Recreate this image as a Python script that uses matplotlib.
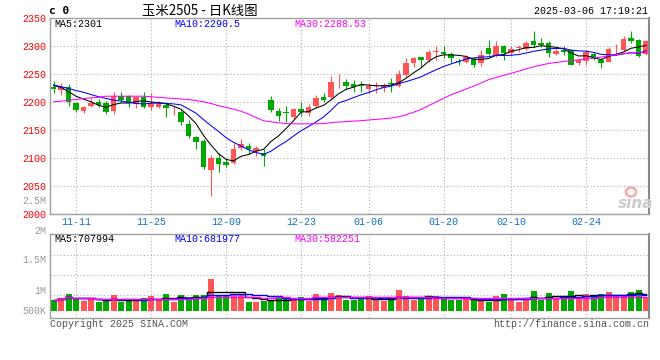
import numpy as np
import pandas as pd
import matplotlib
matplotlib.use('Agg')
import matplotlib.pyplot as plt
from matplotlib.patches import Ellipse

# daily K-line, corn 2505, 2024-11-06 .. 2025-03-06
opens = [2227, 2221, 2227, 2198, 2183, 2193, 2199, 2197, 2184, 2210,
         2210, 2196, 2209, 2191, 2190, 2195, 2185, 2182, 2161, 2137,
         2130, 2077, 2100, 2092, 2090, 2118, 2120, 2112, 2108, 2204,
         2184, 2182, 2172, 2187, 2180, 2192, 2208, 2208, 2235, 2235,
         2232, 2230, 2223, 2229, 2224, 2233, 2229, 2248, 2270, 2280,
         2274, 2289, 2289, 2286, 2273, 2272, 2277, 2270, 2296, 2284,
         2300, 2287, 2296, 2295, 2309, 2306, 2305, 2286, 2292, 2292,
         2269, 2273, 2286, 2274, 2272, 2292, 2292, 2315, 2311, 2286]
closes = [2222, 2227, 2199, 2186, 2190, 2198, 2195, 2182, 2210, 2204,
          2198, 2208, 2190, 2198, 2198, 2188, 2186, 2164, 2138, 2128,
          2083, 2099, 2088, 2086, 2115, 2124, 2115, 2117, 2103, 2186,
          2174, 2180, 2187, 2181, 2190, 2206, 2204, 2236, 2236, 2229,
          2226, 2229, 2229, 2230, 2230, 2231, 2250, 2269, 2279, 2274,
          2290, 2291, 2286, 2278, 2271, 2280, 2266, 2284, 2286, 2300,
          2287, 2295, 2298, 2305, 2302, 2302, 2288, 2291, 2290, 2266,
          2275, 2290, 2276, 2270, 2295, 2293, 2312, 2309, 2282, 2309]
highs = [2237, 2234, 2231, 2200, 2192, 2207, 2205, 2201, 2217, 2217,
         2213, 2210, 2217, 2215, 2201, 2199, 2192, 2186, 2168, 2139,
         2133, 2105, 2108, 2099, 2127, 2133, 2127, 2120, 2115, 2211,
         2188, 2193, 2189, 2200, 2196, 2213, 2215, 2246, 2249, 2240,
         2239, 2238, 2234, 2236, 2233, 2242, 2257, 2278, 2281, 2281,
         2293, 2299, 2299, 2290, 2278, 2284, 2281, 2292, 2311, 2308,
         2302, 2299, 2302, 2308, 2326, 2314, 2308, 2294, 2299, 2294,
         2276, 2292, 2290, 2278, 2298, 2304, 2317, 2326, 2312, 2311]
lows = [2216, 2213, 2193, 2181, 2180, 2191, 2191, 2179, 2179, 2199,
        2190, 2189, 2188, 2185, 2189, 2173, 2176, 2158, 2135, 2115,
        2080, 2031, 2075, 2083, 2089, 2114, 2107, 2103, 2085, 2182,
        2165, 2164, 2169, 2174, 2174, 2189, 2199, 2205, 2225, 2223,
        2218, 2218, 2215, 2215, 2218, 2217, 2227, 2245, 2263, 2263,
        2272, 2275, 2278, 2269, 2266, 2269, 2263, 2264, 2284, 2281,
        2274, 2284, 2290, 2293, 2298, 2298, 2281, 2284, 2284, 2265,
        2266, 2266, 2274, 2260, 2271, 2283, 2290, 2306, 2281, 2284]
volumes = [452000, 523000, 707000, 523000, 410000, 523000, 382000, 410000, 664000, 382000,
           410000, 452000, 523000, 622000, 452000, 707000, 382000, 664000, 579000, 664000,
           664000, 1342000, 664000, 608000, 707000, 664000, 353000, 382000, 410000, 452000,
           622000, 480000, 452000, 579000, 410000, 707000, 480000, 756000, 664000, 452000,
           452000, 495000, 622000, 452000, 410000, 495000, 876000, 636000, 452000, 495000,
           593000, 636000, 565000, 452000, 452000, 495000, 452000, 410000, 353000, 636000,
           707000, 452000, 353000, 523000, 834000, 452000, 749000, 495000, 593000, 834000,
           551000, 707000, 565000, 707000, 791000, 622000, 622000, 791000, 876000, 593000]

# moving averages before enough history is in the window
ma5_head = [2229, 2226, 2218, 2210]
ma10_head = [2230, 2227, 2224, 2220, 2217, 2213, 2209, 2206, 2203]
ma30_head = [2200, 2201, 2203, 2204, 2206, 2207, 2208, 2210, 2210, 2210,
             2210, 2210, 2210, 2209, 2208, 2207, 2206, 2205, 2204, 2202,
             2200, 2197, 2193, 2190, 2187, 2183, 2178, 2172, 2166]

date_idx = [3, 13, 23, 33, 42, 52, 61, 71]
date_labels = ['11-11', '11-25', '12-09', '12-23', '01-06', '01-20', '02-10', '02-24']
price_ticks = [2000, 2050, 2100, 2150, 2200, 2250, 2300, 2350]

RED = '#ff5555'
GREEN = '#00a800'
MONO = 'Liberation Mono'
plt.rcParams['font.family'] = [MONO, 'DejaVu Sans']

df = pd.DataFrame({'open': opens, 'close': closes, 'high': highs, 'low': lows, 'vol': volumes})
x = np.arange(len(df))
up = df['close'] >= df['open']
colors = np.where(up, RED, GREEN)

def ma(s, n, head):
    m = s.rolling(n).mean()
    m.iloc[:len(head)] = head
    return m

ma5 = ma(df['close'], 5, ma5_head)
ma10 = ma(df['close'], 10, ma10_head)
ma30 = ma(df['close'], 30, ma30_head)
vma5 = df['vol'].rolling(5, min_periods=1).mean()
vma10 = df['vol'].rolling(10, min_periods=1).mean()
vma30 = df['vol'].rolling(30, min_periods=1).mean()

W, H = 660, 360
fig = plt.figure(figsize=(6.6, 3.6), dpi=100)

def fx(px):
    return px / W

def fy(py):
    return 1 - py / H

L, R = 50, 649
ax = fig.add_axes([fx(L), fy(213.5), (R - L) / W, (213.5 - 18) / H])
axv = fig.add_axes([fx(L), fy(317.7), (R - L) / W, (317.7 - 234) / H])

def style(a):
    for s in a.spines.values():
        s.set_color('#a0a0a0')
        s.set_linewidth(1)
    a.spines['right'].set_color('#888888')
    a.spines['right'].set_linewidth(1.5)
    a.set_xlim(-0.47, 79.4)
    a.set_xticks(date_idx)
    a.grid(True, color='#b0b0b0', linestyle=(0, (1, 2)), linewidth=0.8)
    a.set_axisbelow(True)
    a.tick_params(length=0)

style(ax)
style(axv)

# candles
body_bot = np.minimum(df['open'], df['close'])
body_h = np.maximum((df['close'] - df['open']).abs(), 1.0)
ax.vlines(x, df['low'], df['high'], colors=colors, linewidth=0.8)
ax.bar(x, body_h, bottom=body_bot, width=0.76, color=colors, linewidth=0)
ax.plot(x, ma5, color='black', lw=0.75)
ax.plot(x, ma10, color='blue', lw=0.75)
ax.plot(x, ma30, color='magenta', lw=0.75)
ax.set_ylim(2001, 2350)
ax.set_yticks(price_ticks)
ax.set_yticklabels([str(t) for t in price_ticks])
ax.tick_params(axis='y', labelcolor='red', labelsize=7.2, pad=3)
ax.set_xticklabels(date_labels)
ax.tick_params(axis='x', labelcolor='#1070c8', labelsize=7.2, pad=2.5)

# volume
axv.bar(x, df['vol'], width=0.8, color=colors, linewidth=0)
axv.plot(x, vma5, color='black', lw=1, drawstyle='steps-mid')
axv.plot(x, vma10, color='blue', lw=1, drawstyle='steps-mid')
axv.plot(x, vma30, color='magenta', lw=1, drawstyle='steps-mid')
axv.set_ylim(-297000, 3252000)
axv.set_yticks([2360000, 1514000, 666000])
axv.set_yticklabels([])
axv.set_xticklabels([])

# texts
fs = 7.2
fig.text(fx(49), fy(11.5), 'c 0', family='DejaVu Sans Mono', weight='bold', fontsize=8, va='center')
fig.text(fx(200), fy(10.5), '玉米2505 - 日K线图', family=['Noto Sans CJK SC', 'DejaVu Sans'],
         fontsize=9.6, ha='center', va='center')
fig.text(fx(648), fy(11.5), '2025-03-06 17:19:21', fontsize=fs, ha='right', va='center')

fig.text(fx(54), fy(24), 'MA5:2301', fontsize=fs, va='center', color='black')
fig.text(fx(174), fy(24), 'MA10:2290.5', fontsize=fs, va='center', color='blue')
fig.text(fx(294), fy(24), 'MA30:2288.53', fontsize=fs, va='center', color='magenta')

fig.text(fx(54), fy(239), 'MA5:707994', fontsize=fs, va='center', color='black')
fig.text(fx(174), fy(239), 'MA10:681977', fontsize=fs, va='center', color='blue')
fig.text(fx(294), fy(239), 'MA30:582251', fontsize=fs, va='center', color='magenta')

for lab, py in [('2.5M', 201), ('2M', 231), ('1.5M', 260), ('1M', 291), ('500K', 311)]:
    fig.text(fx(46), fy(py), lab, fontsize=fs, ha='right', va='center', color='#999999')

fig.text(fx(50), fy(324), 'Copyright 2025 SINA.COM', fontsize=fs, va='center', color='#555555')
fig.text(fx(649), fy(324), 'http://finance.sina.com.cn', fontsize=fs, ha='right', va='center',
         color='#555555')

# faint sina watermark
fig.patches.append(Ellipse((fx(631), fy(192)), 10 / W, 9 / H, transform=fig.transFigure,
                           facecolor='none', edgecolor='#f2b0b0', lw=2))
fig.text(fx(636), fy(203), 'sina', fontsize=11, style='italic', weight='bold',
         family='DejaVu Sans', color='#cccccc', ha='center', va='center')

fig.savefig('out.png', dpi=100)
